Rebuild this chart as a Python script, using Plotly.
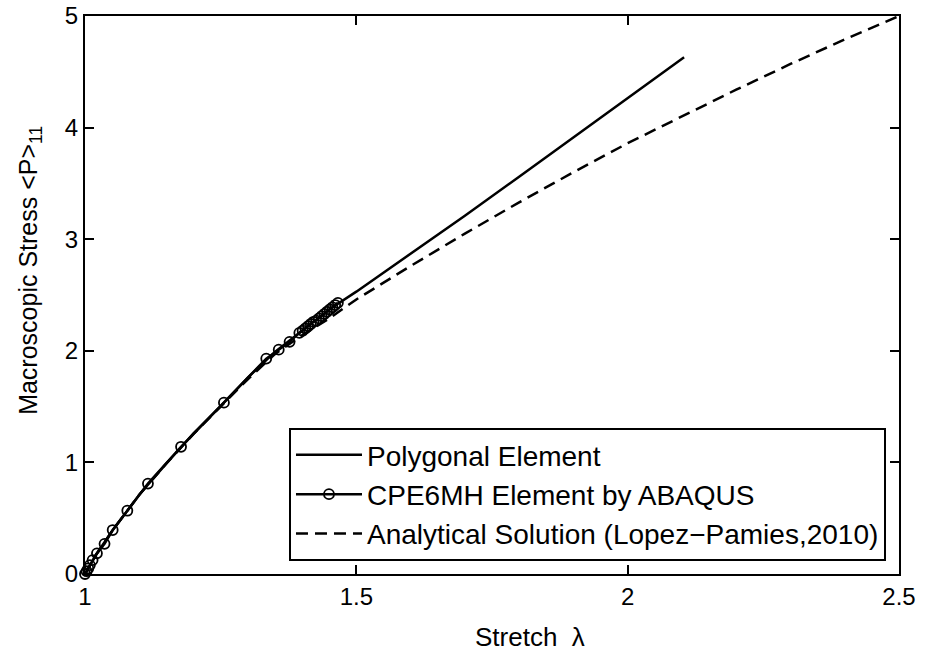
import plotly.graph_objects as go

# Polygonal Element (solid)
lam_poly = [1.0, 1.02, 1.05, 1.1, 1.15, 1.2, 1.25, 1.3, 1.35, 1.4, 1.45, 1.5,
            1.6, 1.7, 1.8, 1.9, 2.0, 2.104]
P_poly = [0.0, 0.17, 0.385, 0.71, 0.99, 1.26, 1.505, 1.76, 1.99, 2.18, 2.37, 2.53,
          2.87, 3.21, 3.56, 3.91, 4.26, 4.63]

# CPE6MH Element by ABAQUS (line + open circles)
lam_abq = [1.0, 1.003, 1.006, 1.009, 1.014, 1.022, 1.036, 1.051, 1.078, 1.116, 1.177,
           1.256, 1.334, 1.357, 1.377, 1.395, 1.401, 1.406, 1.411, 1.416, 1.421, 1.426,
           1.431, 1.436, 1.441, 1.446, 1.451, 1.456, 1.461, 1.466]
P_abq = [0.0, 0.025, 0.05, 0.08, 0.125, 0.185, 0.27, 0.394, 0.567, 0.81, 1.14,
         1.535, 1.93, 2.01, 2.08, 2.16, 2.18, 2.2, 2.22, 2.24, 2.26, 2.27,
         2.29, 2.31, 2.33, 2.35, 2.37, 2.39, 2.41, 2.43]

# Analytical Solution (dashed)
lam_ana = [1.0, 1.02, 1.05, 1.1, 1.15, 1.2, 1.25, 1.3, 1.35, 1.4, 1.45, 1.5, 1.6,
           1.7, 1.8, 1.9, 2.0, 2.1, 2.2, 2.3, 2.4, 2.5]
P_ana = [0.0, 0.17, 0.385, 0.71, 0.99, 1.255, 1.5, 1.745, 1.97, 2.14, 2.29, 2.46, 2.76,
         3.05, 3.33, 3.6, 3.86, 4.1, 4.34, 4.57, 4.79, 5.0]

x_ticks = [1, 1.5, 2, 2.5]
x_ticklabels = ["1", "1.5", "2", "2.5"]
y_ticks = [0, 1, 2, 3, 4, 5]

x_label = "Stretch  \u03bb"
y_label = "Macroscopic Stress &lt;P&gt;<sub>11</sub>"

FONT = "Liberation Sans, Arial, Helvetica, sans-serif"
TICK_FS = 24
LABEL_FS = 25
LEG_FS = 28

fig = go.Figure()
fig.add_trace(go.Scatter(x=lam_poly, y=P_poly, mode="lines", name="Polygonal Element",
                         line=dict(color="black", width=2.5)))
fig.add_trace(go.Scatter(x=lam_abq, y=P_abq, mode="lines+markers",
                         name="CPE6MH Element by ABAQUS",
                         line=dict(color="black", width=2.5),
                         marker=dict(symbol="circle-open", size=10, color="black",
                                     line=dict(width=1.8, color="black")),
                         cliponaxis=False))
fig.add_trace(go.Scatter(x=lam_ana, y=P_ana, mode="lines",
                         name="Analytical Solution (Lopez\u2212Pamies,2010)",
                         line=dict(color="black", width=2.5, dash="12px,7px")))

axis_common = dict(showline=True, linecolor="black", linewidth=2, mirror="ticks",
                   ticks="inside", ticklen=9, tickwidth=2, tickcolor="black",
                   showgrid=False, zeroline=False, automargin=False,
                   ticklabeloverflow="allow",
                   tickfont=dict(family=FONT, size=TICK_FS, color="black"))

fig.update_layout(
    width=935, height=654,
    margin=dict(l=85, r=36, t=16, b=80),
    paper_bgcolor="white", plot_bgcolor="white",
    font=dict(family=FONT, color="black"),
    xaxis=dict(range=[1, 2.5], tickvals=x_ticks, ticktext=x_ticklabels, **axis_common),
    yaxis=dict(range=[0, 5], tickvals=y_ticks, **axis_common),
    legend=dict(x=0.2506, y=0.2616, xanchor="left", yanchor="top",
                bgcolor="white", bordercolor="black", borderwidth=2,
                font=dict(family=FONT, size=LEG_FS, color="black"),
                itemwidth=66, tracegroupgap=0),
    showlegend=True,
    annotations=[
        dict(text=x_label, xref="paper", yref="paper", x=0.5467, y=0,
             xanchor="center", yanchor="middle", yshift=-63, showarrow=False,
             font=dict(family=FONT, size=LABEL_FS + 1, color="black")),
        dict(text=y_label, xref="paper", yref="paper", x=-0.0676, y=0.545,
             xanchor="center", yanchor="middle", textangle=-90, showarrow=False,
             font=dict(family=FONT, size=LABEL_FS, color="black")),
    ],
)

fig.write_html("out.html",
               config={"displayModeBar": False},
               post_script="document.body.style.margin='0';"
                           "document.body.style.overflow='hidden';")
